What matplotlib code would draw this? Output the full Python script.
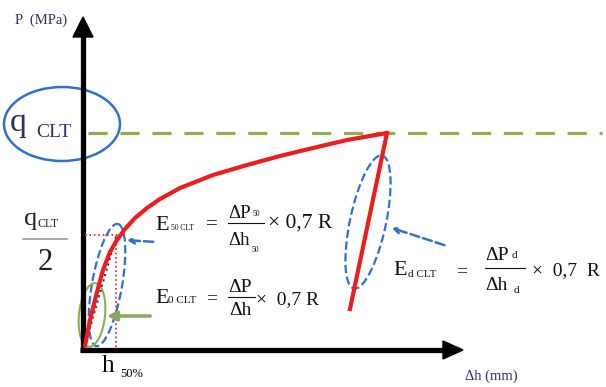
import matplotlib.pyplot as plt
from matplotlib.patches import Ellipse, Polygon

# schematic drawn in pixel units (y grows downwards)
curve_x = [85, 90, 97, 103, 110, 117, 125, 135, 147, 160, 180, 213, 247, 280, 313, 347, 387]
curve_y = [346, 320, 292, 270, 252, 240, 229, 218, 208, 199, 188, 175, 165, 156, 148, 140, 133]
unload_x = [387, 350]
unload_y = [133, 309]
peak_level = 133
half_level = 235
h50 = 116

serif = 'Liberation Serif'
navy = '#2c2f6e'
red = '#ee1c1c'
green = '#8db04e'
blue = '#2f6fd6'

fig = plt.figure(figsize=(6.06, 3.87), dpi=100)
ax = fig.add_axes([0, 0, 1, 1])
ax.set_xlim(0, 606)
ax.set_ylim(387, 0)
ax.axis('off')

# axes arrows
ax.plot([83, 83], [352, 36], color='black', lw=3.8, solid_capstyle='butt')
ax.add_patch(Polygon([[73, 37], [93, 37], [83, 17]], closed=True, color='black'))
ax.plot([80, 444], [350, 350], color='black', lw=3.8, solid_capstyle='butt')
ax.add_patch(Polygon([[443, 341], [443, 359], [463, 350]], closed=True, color='black'))

ax.text(15, 24, 'P  (MPa)', family=serif, fontsize=10.5, color=navy)
ax.text(465, 380, '\u0394h (mm)', family=serif, fontsize=10.5, color=navy)

# peak level
ax.plot([88, 602], [peak_level, peak_level], color=green, lw=2.3, dashes=(6, 4))

# half level / h50 guides
ax.plot([85, 119], [half_level, half_level], color=red, lw=1.2, ls=':')
ax.plot([h50, h50], [half_level, 350], color=red, lw=1.2, ls=':')
ax.plot([85, h50], [345, half_level + 2], color=navy, lw=1.5, ls=':')

# curve
ax.plot(curve_x, curve_y, color=red, lw=3.0, solid_capstyle='round', solid_joinstyle='round')
ax.plot(unload_x, unload_y, color=red, lw=3.0)

# ellipses
ax.add_patch(Ellipse((62, 124), 116, 74, fill=False, ec=blue, lw=1.8))
ax.add_patch(Ellipse((107, 285), 30, 124, angle=10, fill=False, ec=blue, lw=1.6, ls='--'))
ax.add_patch(Ellipse((92, 315), 26, 64, angle=6, fill=False, ec=green, lw=1.5))
ax.add_patch(Ellipse((368, 222), 36, 136, angle=12, fill=False, ec=blue, lw=1.6, ls='--'))

# pointer arrows
ax.annotate('', xy=(124, 240), xytext=(156, 242),
            arrowprops=dict(arrowstyle='->', color=blue, lw=1.8, ls='--'))
ax.annotate('', xy=(389, 227), xytext=(447, 246),
            arrowprops=dict(arrowstyle='->', color=blue, lw=1.8, ls='--'))
ax.annotate('', xy=(104, 316), xytext=(153, 316),
            arrowprops=dict(arrowstyle='-|>', color='#8aa862', lw=2.5, mutation_scale=14))

# left labels
ax.text(10, 131, 'q', family=serif, fontsize=24, color=navy)
ax.text(36, 137, 'CLT', family=serif, fontsize=14, color=navy)
ax.text(24, 225, 'q', family=serif, fontsize=19, color='#222222')
ax.text(37, 227, 'CLT', family=serif, fontsize=8.5, color='#222222')
ax.plot([23, 67], [239, 239], color='#999999', lw=1.2)
ax.text(45, 270, '2', family=serif, fontsize=22, color='#222222', ha='center')
ax.text(102, 372, 'h', family=serif, fontsize=18, color='black')
ax.text(120, 377, '50%', family=serif, fontsize=9, color='black')

# E50 formula
tc = '#111111'
ax.text(155, 230, 'E', family=serif, fontsize=16, color=tc)
ax.text(171, 230, '50 CLT', family=serif, fontsize=5.5, color=tc)
ax.text(206, 229, '=', family=serif, fontsize=15, color=tc)
ax.text(228, 218, '\u0394P', family=serif, fontsize=13.5, color=tc)
ax.text(253, 216, '50', family=serif, fontsize=5.5, color=tc)
ax.plot([228, 264], [223, 223], color=tc, lw=0.8)
ax.text(228, 245, '\u0394h', family=serif, fontsize=13.5, color=tc)
ax.text(252, 252, '50', family=serif, fontsize=5.5, color=tc)
ax.text(268, 228, '\u00d7 0,7 R', family=serif, fontsize=15.5, color=tc)

# E0 formula
ax.text(155, 303, 'E', family=serif, fontsize=16, color=tc)
ax.text(168, 303, '0 CLT', family=serif, fontsize=8, color=tc)
ax.text(206, 303, '=', family=serif, fontsize=14, color=tc)
ax.text(228, 292, '\u0394P', family=serif, fontsize=14, color=tc)
ax.plot([228, 255], [297, 297], color=tc, lw=0.8)
ax.text(229, 315, '\u0394h', family=serif, fontsize=14, color=tc)
ax.text(256, 304, '\u00d7  0,7 R', family=serif, fontsize=14, color=tc)

# Ed formula
ax.text(393, 275, 'E', family=serif, fontsize=16, color=tc)
ax.text(408, 277, 'd CLT', family=serif, fontsize=8, color=tc)
ax.text(456, 276, '=', family=serif, fontsize=14, color=tc)
ax.text(485, 260, '\u0394P', family=serif, fontsize=14, color=tc)
ax.text(512, 258, 'd', family=serif, fontsize=8, color=tc)
ax.plot([485, 525], [268, 268], color=tc, lw=0.8)
ax.text(485, 290, '\u0394h', family=serif, fontsize=14, color=tc)
ax.text(514, 293, 'd', family=serif, fontsize=8, color=tc)
ax.text(532, 275, '\u00d7  0,7  R', family=serif, fontsize=14, color=tc)

fig.savefig('out.png', dpi=100)
